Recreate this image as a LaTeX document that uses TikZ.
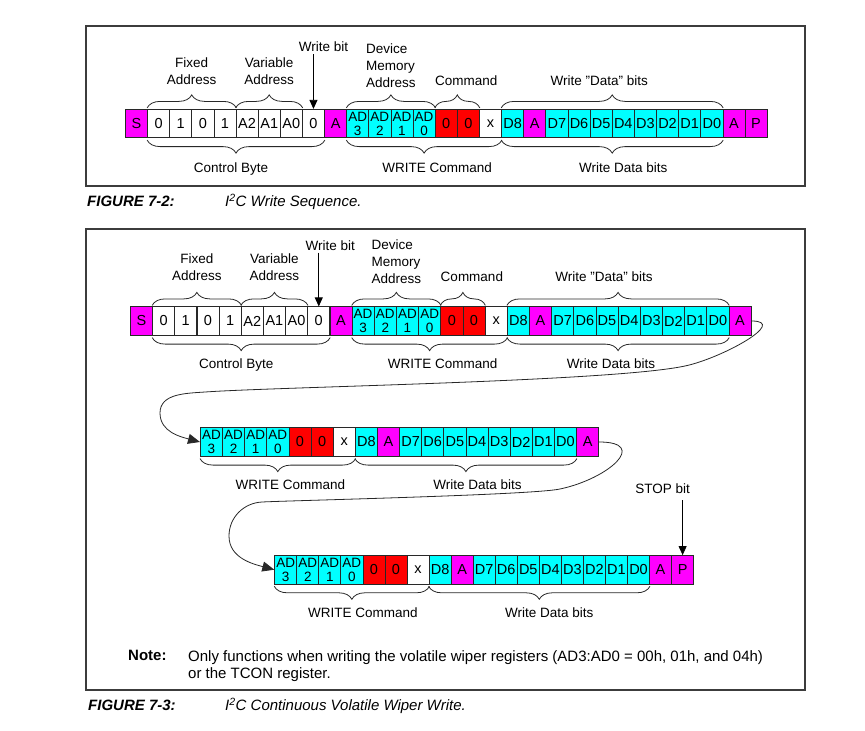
\documentclass[tikz,border=0pt]{standalone}
\usepackage{fontspec}
\setmainfont{Liberation Sans}
\usetikzlibrary{positioning,arrows.meta,decorations.pathreplacing,calc}
\definecolor{ackmag}{RGB}{255,0,255}
\definecolor{datacyan}{RGB}{0,255,255}
\definecolor{cmdred}{RGB}{255,0,0}
\definecolor{inkgray}{RGB}{40,40,40}
\definecolor{framegray}{RGB}{60,60,60}

\begin{document}
\begin{tikzpicture}[x=1pt, y=1pt,
    bit/.style={rectangle, draw=inkgray, line width=0.7pt, anchor=west,
                minimum width=22.13pt, minimum height=28.5pt, inner sep=0pt,
                align=center, font=\fontsize{14.5}{14.5}\selectfont},
    plainbit/.style={bit, fill=white},
    ackbit/.style={bit, fill=ackmag},
    databit/.style={bit, fill=datacyan},
    adbit/.style={databit, font=\fontsize{13.5}{14}\selectfont},
    cmdbit/.style={bit, fill=cmdred},
    upbrace/.style={decorate, decoration={brace, amplitude=13pt, raise=1pt},
                    draw=inkgray, line width=0.8pt},
    downbrace/.style={decorate, decoration={brace, amplitude=13pt, raise=2pt, mirror},
                      draw=inkgray, line width=0.8pt},
    uptag/.style={midway, above=24pt, inner sep=0pt, align=center,
                  font=\fontsize{13.5}{17}\selectfont},
    downtag/.style={midway, below=23pt, inner sep=0pt,
                    font=\fontsize{13.5}{17}\selectfont},
    tag/.style={inner sep=2pt, font=\fontsize{13.5}{17}\selectfont},
    pointer/.style={-{Triangle[length=9pt, width=8pt]}, line width=0.8pt, black},
    flow/.style={-{Triangle[length=12pt, width=10pt]}, line width=0.8pt, inkgray},
    frame/.style={draw=framegray, line width=1.3pt},
    figlabel/.style={anchor=west, inner sep=0pt, font=\fontsize{15}{17}\selectfont\bfseries\itshape},
    figtitle/.style={anchor=west, inner sep=0pt, font=\fontsize{15}{17}\selectfont\itshape}
]
\useasboundingbox (0,0) rectangle (865,-731);

% figure 7-2
\draw[frame] (86,-26) rectangle (805,-186);
\foreach \t/\s [count=\i from 0] in {S/ackbit, 0/plainbit, 1/plainbit, 0/plainbit, 1/plainbit,
    A2/plainbit, A1/plainbit, A0/plainbit, 0/plainbit, A/ackbit,
    AD\\3/adbit, AD\\2/adbit, AD\\1/adbit, AD\\0/adbit, 0/cmdbit, 0/cmdbit, x/plainbit,
    D8/databit, A/ackbit, D7/databit, D6/databit, D5/databit, D4/databit, D3/databit,
    D2/databit, D1/databit, D0/databit, A/ackbit, P/ackbit}
  \node[\s] (f1c\i) at ({125+22.13*\i}, -123.5) {\t};

\draw[upbrace] (f1c1.north west) -- (f1c4.north east) node[uptag] (f1fixed) {Fixed\\Address};
\draw[upbrace] (f1c5.north west) -- (f1c7.north east) node[uptag] (f1var) {Variable\\Address};
\draw[upbrace] (f1c10.north west) -- (f1c13.north east) node[uptag, above=21pt, align=left] (f1dma) {Device\\Memory\\Address};
\draw[upbrace] (f1c14.north west) -- (f1c15.north east) node[uptag, above=23pt, xshift=9pt] (f1cmd) {Command};
\draw[upbrace] (f1c17.north west) -- (f1c26.north east) node[uptag, above=23pt, xshift=-13pt] (f1data) {Write "Data" bits};
\draw[downbrace] (f1c1.south west) -- (f1c8.south east) node[downtag, below=24pt, xshift=-5pt] (f1ctrl) {Control Byte};
\draw[downbrace] (f1c10.south west) -- (f1c16.south east) node[downtag, below=24pt, xshift=13pt] (f1write) {WRITE Command};
\draw[downbrace] (f1c17.south west) -- (f1c26.south east) node[downtag, below=24pt, xshift=11pt] (f1bits) {Write Data bits};

\node[tag] (f1wbit) at ([xshift=10pt, yshift=62pt]f1c8.north) {Write bit};
\draw[pointer] (f1wbit.south -| f1c8.north) -- (f1c8.north);

\node[figlabel] (cap1) at (87,-201.7) {FIGURE 7-2:};
\node[figtitle] (title1) at (225,-201.7) {I\textsuperscript{2}C Write Sequence.};

% figure 7-3
\draw[frame] (86,-229) rectangle (805,-690);
\foreach \t/\s [count=\i from 0] in {S/ackbit, 0/plainbit, 1/plainbit, 0/plainbit, 1/plainbit,
    A2/plainbit, A1/plainbit, A0/plainbit, 0/plainbit, A/ackbit,
    AD\\3/adbit, AD\\2/adbit, AD\\1/adbit, AD\\0/adbit, 0/cmdbit, 0/cmdbit, x/plainbit,
    D8/databit, A/ackbit, D7/databit, D6/databit, D5/databit, D4/databit, D3/databit,
    D2/databit, D1/databit, D0/databit, A/ackbit}
  \node[\s] (f2c\i) at ({130+22.17*\i}, -321) {\t};

\draw[upbrace] (f2c1.north west) -- (f2c4.north east) node[uptag, above=25pt] (f2fixed) {Fixed\\Address};
\draw[upbrace] (f2c5.north west) -- (f2c7.north east) node[uptag, above=25pt] (f2var) {Variable\\Address};
\draw[upbrace] (f2c10.north west) -- (f2c13.north east) node[uptag, above=22pt, align=left] (f2dma) {Device\\Memory\\Address};
\draw[upbrace] (f2c14.north west) -- (f2c15.north east) node[uptag, xshift=9pt] (f2cmd) {Command};
\draw[upbrace] (f2c17.north west) -- (f2c26.north east) node[uptag, xshift=-14pt] (f2data) {Write "Data" bits};
\draw[downbrace] (f2c1.south west) -- (f2c8.south east) node[downtag, xshift=-5pt] (f2ctrl) {Control Byte};
\draw[downbrace] (f2c10.south west) -- (f2c16.south east) node[downtag, xshift=13pt] (f2write) {WRITE Command};
\draw[downbrace] (f2c17.south west) -- (f2c26.south east) node[downtag, xshift=-7pt] (f2bits) {Write Data bits};

\node[tag] (f2wbit) at ([xshift=11.6pt, yshift=61pt]f2c8.north) {Write bit};
\draw[pointer] (f2wbit.south -| f2c8.north) -- (f2c8.north);

% continued write bytes
\foreach \t/\s [count=\i from 0] in {AD\\3/adbit, AD\\2/adbit, AD\\1/adbit, AD\\0/adbit,
    0/cmdbit, 0/cmdbit, x/plainbit, D8/databit, A/ackbit, D7/databit, D6/databit, D5/databit,
    D4/databit, D3/databit, D2/databit, D1/databit, D0/databit, A/ackbit}
  \node[\s] (f3c\i) at ({200+22.13*\i}, -442) {\t};
\draw[downbrace] (f3c0.south west) -- (f3c6.south east) node[downtag, xshift=12.5pt] (f3write) {WRITE Command};
\draw[downbrace] (f3c7.south west) -- (f3c16.south east) node[downtag, xshift=11.5pt] (f3bits) {Write Data bits};

\foreach \t/\s [count=\i from 0] in {AD\\3/adbit, AD\\2/adbit, AD\\1/adbit, AD\\0/adbit,
    0/cmdbit, 0/cmdbit, x/plainbit, D8/databit, A/ackbit, D7/databit, D6/databit, D5/databit,
    D4/databit, D3/databit, D2/databit, D1/databit, D0/databit, A/ackbit, P/ackbit}
  \node[\s] (f4c\i) at ({274.3+22.05*\i}, -569.7) {\t};
\draw[downbrace] (f4c0.south west) -- (f4c6.south east) node[downtag, xshift=11pt] (f4write) {WRITE Command};
\draw[downbrace] (f4c7.south west) -- (f4c16.south east) node[downtag, xshift=10pt] (f4bits) {Write Data bits};

\node[tag] (stopbit) at ([xshift=-20pt, yshift=66pt]f4c18.north) {STOP bit};
\draw[pointer, shorten <=4pt] (stopbit.south -| f4c18.north) -- (f4c18.north);

% wrap-around arrows
\coordinate (swingA) at (685,-366);
\coordinate (glideA) at (205,-392);
\coordinate (loopA) at (160,-413);
\draw[flow] (f2c27.east) to[out=0, in=12, looseness=1.2] (swingA)
    to[out=192, in=4, looseness=0.4] (glideA) to[out=184, in=90] (loopA)
    to[out=-90, in=165] (f3c0.west);

\coordinate (swingB) at (560,-489);
\coordinate (glideB) at (262,-502);
\coordinate (loopB) at (229,-536);
\draw[flow] (f3c17.east) to[out=0, in=12, looseness=2.1] (swingB)
    to[out=192, in=3, looseness=0.25] (glideB) to[out=183, in=90] (loopB)
    to[out=-90, in=165] (f4c0.west);

\node[anchor=north west, inner sep=0pt, font=\fontsize{15}{17}\selectfont\bfseries] (notehead) at (128,-650) {Note:};
\node[anchor=north west, inner sep=0pt, align=left, font=\fontsize{15}{17}\selectfont] (notebody) at (188,-650)
    {Only functions when writing the volatile wiper registers (AD3:AD0 = 00h, 01h, and 04h)\\or the TCON register.};

\node[figlabel] (cap2) at (88,-705.5) {FIGURE 7-3:};
\node[figtitle] (title2) at (225,-705.5) {I\textsuperscript{2}C Continuous Volatile Wiper Write.};
\end{tikzpicture}
\end{document}
